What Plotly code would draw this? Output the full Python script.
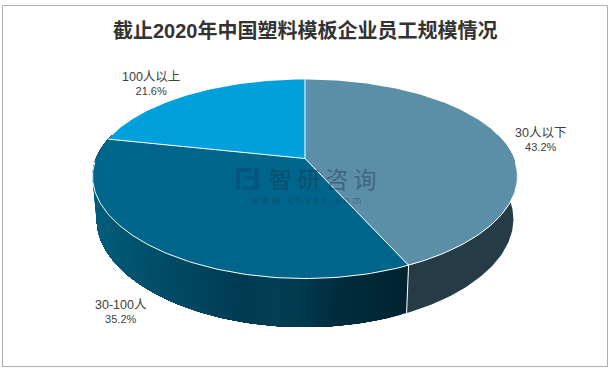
import math
import plotly.graph_objects as go

# ---- data ----
categories = ["30人以下", "30-100人", "100人以上"]
shares = [43.2, 35.2, 21.6]
title_text = "截止2020年中国塑料模板企业员工规模情况"

# ---- style / geometry ----
W, H = 611, 372
top_colors = ["#5B8FA8", "#00658A", "#00A0DC"]
CX = 305
PERSP_X, PERSP_Y = 0.18, 0.206
TOP = dict(a=209.0, c=95.3, y0=158.5)
BOT = dict(a=205.0, c=100.6, y0=200.4)
wall_stops = [(85, (0, 96, 128)), (150, (0, 80, 106)), (250, (0, 58, 80)),
              (275, (0, 64, 86)), (340, (0, 44, 60)), (410, (0, 34, 48))]
wall_right = "#253B46"


def project(theta, plane):
    u, v = math.sin(theta), math.cos(theta)
    return (CX + plane["a"] * u / (1 + PERSP_X * v),
            plane["y0"] - plane["c"] * v / (1 + PERSP_Y * v))


def arc(t0, t1, plane, step=math.radians(1)):
    n = max(2, int(abs(t1 - t0) / step) + 1)
    return [project(t0 + (t1 - t0) * i / (n - 1), plane) for i in range(n)]


def wall_color(x):
    if x <= wall_stops[0][0]:
        c = wall_stops[0][1]
    elif x >= wall_stops[-1][0]:
        c = wall_stops[-1][1]
    else:
        for (x0, c0), (x1, c1) in zip(wall_stops, wall_stops[1:]):
            if x0 <= x <= x1:
                f = (x - x0) / (x1 - x0)
                c = tuple(round(p + (q - p) * f) for p, q in zip(c0, c1))
                break
    return "rgb(%d,%d,%d)" % c


def poly(points, color, name):
    xs = [p[0] for p in points] + [points[0][0]]
    ys = [p[1] for p in points] + [points[0][1]]
    return go.Scatter(x=xs, y=ys, mode="lines", fill="toself", fillcolor=color,
                      line=dict(color=color, width=0), name=name, hoverinfo="name",
                      showlegend=False)


def stroke(points, name):
    return go.Scatter(x=[p[0] for p in points], y=[p[1] for p in points], mode="lines",
                      line=dict(color="white", width=1), name=name, hoverinfo="skip",
                      showlegend=False)


total = sum(shares)
edges = [0.0]
for s in shares:
    edges.append(edges[-1] + 2 * math.pi * s / total)

traces = []
t_first, t_last = math.radians(75), math.radians(285)
traces.append(poly(arc(t_first, edges[1], TOP) + arc(edges[1], t_first, BOT), wall_right, categories[0]))
# second slice wall carries a shaded band; strips overlap their neighbour so no seams show
n_strips = 90
for i in range(n_strips):
    a0 = edges[1] + (t_last - edges[1]) * i / n_strips
    mid = project(a0 + (t_last - edges[1]) / (2 * n_strips), BOT)[0]
    traces.append(poly(arc(a0, t_last, TOP) + arc(t_last, a0, BOT), wall_color(mid), categories[1]))

# top face
for k in range(3):
    traces.append(poly([(CX, TOP["y0"])] + arc(edges[k], edges[k + 1], TOP),
                       top_colors[k], categories[k]))

# white separators
for k in range(3):
    traces.append(stroke([(CX, TOP["y0"]), project(edges[k], TOP)], "sep"))
traces.append(stroke(arc(math.radians(92), math.radians(268), TOP), "rim"))
traces.append(stroke([project(edges[1], TOP), project(edges[1], BOT)], "edge"))

fig = go.Figure(traces)

label_pos = [(540, 139.5), (120.5, 311.5), (150.5, 83)]
annots = [dict(x=x, y=y, xref="x", yref="y", showarrow=False, align="center",
               text=f'<span style="font-size:12.5px">{c}</span><br>{s:.1f}%',
               font=dict(family="Liberation Sans, Noto Sans CJK SC", size=11, color="#404040"))
          for (x, y), c, s in zip(label_pos, categories, shares)]
annots.append(dict(x=W / 2, y=30, xref="x", yref="y", showarrow=False,
                   text=f"<b>{title_text}</b>",
                   font=dict(family="Liberation Sans, Noto Sans CJK SC", size=20, color="#333333")))
annots.append(dict(x=322, y=178, xref="x", yref="y", showarrow=False, text="智 研 咨 询",
                   font=dict(family="Noto Sans CJK SC", size=23, color="rgba(30,50,70,0.45)")))
annots.append(dict(x=305.5, y=199.5, xref="x", yref="y", showarrow=False, text="w w w . c h y x x . c o m",
                   font=dict(family="Liberation Sans", size=10.5, color="rgba(30,50,70,0.45)")))

logo = "rgba(10,75,125,0.55)"
shapes = [
    dict(type="rect", xref="x", yref="y", x0=2.5, y0=5.5, x1=607.5, y1=366.5,
         line=dict(color="#ADADAD", width=1), fillcolor="rgba(0,0,0,0)", layer="above"),
    dict(type="path", xref="x", yref="y", layer="above", line=dict(width=0), fillcolor=logo,
         path="M236,168 L252,168 L252,172 L240,172 L240,190 L236,190 Z"),
    dict(type="path", xref="x", yref="y", layer="above", line=dict(width=0), fillcolor=logo,
         path="M244,176 L254,176 L254,168 L259,168 L259,190 L243,190 L243,186 L254,186 L254,180 L244,180 Z"),
]

fig.update_layout(
    width=W, height=H, autosize=False,
    margin=dict(l=0, r=0, t=0, b=0),
    paper_bgcolor="white", plot_bgcolor="white",
    showlegend=False, annotations=annots, shapes=shapes,
    xaxis=dict(range=[0, W], visible=False, fixedrange=True),
    yaxis=dict(range=[H, 0], visible=False, fixedrange=True),
)
fig.write_html("out.html", config={"displayModeBar": False},
               post_script="document.body.style.margin='0';document.documentElement.style.overflow='hidden';")
